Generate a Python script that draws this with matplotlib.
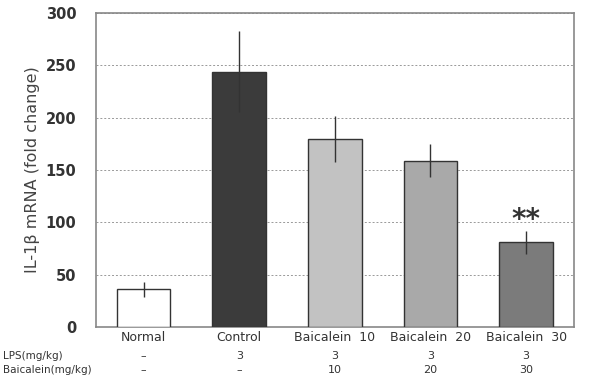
import matplotlib
matplotlib.use('Agg')
import matplotlib.pyplot as plt
import numpy as np

groups = ['Normal', 'Control', 'Baicalein  10', 'Baicalein  20', 'Baicalein  30']
values = [36, 244, 180, 159, 81]
errors = [7, 39, 22, 16, 11]
lps = ['–', '3', '3', '3', '3']
baicalein = ['–', '–', '10', '20', '30']
colors = ['#ffffff', '#3b3b3b', '#c2c2c2', '#a9a9a9', '#7b7b7b']

fig = plt.figure(figsize=(6.06, 3.82), dpi=100)
ax = fig.add_axes([0.158, 0.144, 0.789, 0.822])

x = np.arange(len(groups))
ax.bar(x, values, width=0.56, color=colors, edgecolor='#333333', linewidth=1.0, zorder=3)
ax.errorbar(x, values, yerr=errors, fmt='none', ecolor='#333333', elinewidth=1.0, capsize=0, zorder=4)
ax.text(x[4], values[4] + errors[4] - 3, '**', ha='center', va='bottom', fontsize=20,
        fontweight='bold', color='#333333')

ax.set_xlim(-0.5, 4.5)
ax.set_ylim(0, 300)
ax.set_yticks(range(0, 301, 50))
ax.set_yticklabels([str(v) for v in range(0, 301, 50)], fontsize=10.5, fontweight='bold', color='#333333')
ax.tick_params(axis='y', length=0, pad=14)
ax.set_xticks(x)
ax.set_xticklabels(groups, fontsize=9, color='#333333')
ax.tick_params(axis='x', length=0, pad=3)
ax.grid(axis='y', linestyle=(0, (2, 2)), color='#999999', linewidth=0.7, zorder=0)
for s in ax.spines.values():
    s.set_color('#888888')
    s.set_linewidth(1.2)
ax.set_ylabel('IL-1β mRNA (fold change)', fontsize=11.5, color='#444444', labelpad=4)

# treatment rows below the chart
fig.text(0.005, 0.068, 'LPS(mg/kg)', fontsize=7.5, color='#333333', va='center')
fig.text(0.005, 0.032, 'Baicalein(mg/kg)', fontsize=7.5, color='#333333', va='center')
for i in range(len(groups)):
    xf = fig.transFigure.inverted().transform(ax.transData.transform((x[i], 0)))[0]
    fig.text(xf, 0.068, lps[i], fontsize=8, ha='center', va='center', color='#333333')
    fig.text(xf, 0.032, baicalein[i], fontsize=8, ha='center', va='center', color='#333333')

fig.savefig('out.png', dpi=100)
